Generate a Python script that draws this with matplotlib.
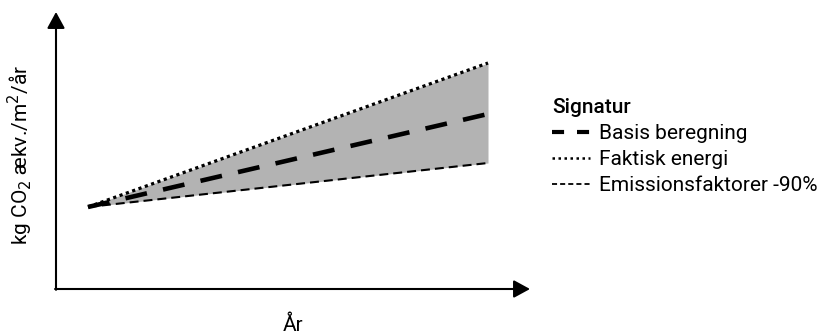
import matplotlib.pyplot as plt
from matplotlib.lines import Line2D

# skematisk udvikling over tid (vilkaarlige enheder)
aar = [4, 54]
basis = [82, 175]
faktisk_energi = [82, 226]
emission_90 = [82, 126]

labels = ["Basis beregning", "Faktisk energi", "Emissionsfaktorer -90%"]

plt.rcParams['font.family'] = ['Roboto', 'DejaVu Sans']

fig = plt.figure(figsize=(8.22, 3.36), dpi=100)
W, H = 822, 336
ax = fig.add_axes([56 / W, (H - 289) / H, (530 - 56) / W, (289 - 12) / H])
ax.set_xlim(0, 59.25)
ax.set_ylim(0, 277)
ax.axis('off')

ax.fill_between(aar, emission_90, faktisk_energi, color='#b3b3b3', lw=0)
ax.plot(aar, faktisk_energi, color='black', lw=2.3, linestyle=(0, (1, 1.1)))
ax.plot(aar, emission_90, color='black', lw=1.5, linestyle=(0, (4.3, 2.4)))
ax.plot(aar, basis, color='black', lw=3.3, linestyle=(0, (4.8, 3.6)))

# akser med pile
arrow = dict(arrowstyle='-|>,head_length=0.55,head_width=0.3', lw=1.5,
             color='black', mutation_scale=18, shrinkA=0, shrinkB=0)
ax.annotate('', xy=(1, 0), xytext=(-0.002, 0), xycoords='axes fraction', arrowprops=arrow)
ax.annotate('', xy=(0, 1), xytext=(0, -0.003), xycoords='axes fraction', arrowprops=arrow)

fig.text(293 / W, 1 - 325 / H, "År", ha='center', va='center', fontsize=15)
fig.text(20 / W, 1 - 155 / H, "kg CO$_2$ ækv./m$^2$/år", rotation=90,
         ha='center', va='center', fontsize=15)

handles = [
    Line2D([], [], color='black', lw=3, linestyle=(0, (2.9, 3.1))),
    Line2D([], [], color='black', lw=1.8, linestyle=(0, (1, 1.4))),
    Line2D([], [], color='black', lw=1.3, linestyle=(0, (2.8, 1.7))),
]
leg = fig.legend(handles, labels, title="Signatur", loc='upper left',
                 bbox_to_anchor=(542 / W, 1 - 88 / H), frameon=False,
                 fontsize=15, title_fontsize=15, handlelength=1.8,
                 handletextpad=0.45, labelspacing=0.33, borderpad=0,
                 alignment='left')
leg.get_title().set_fontweight('medium')

fig.savefig('out.png', dpi=100)
